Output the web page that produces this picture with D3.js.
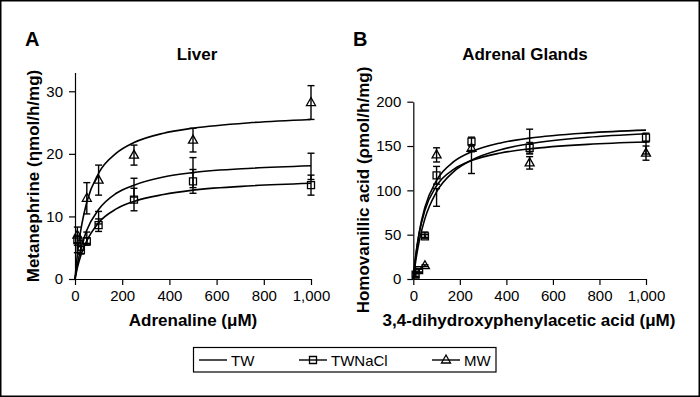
<!DOCTYPE html>
<html>
<head>
<meta charset="utf-8">
<script src="https://cdn.jsdelivr.net/npm/d3@7"></script>
<style>
  body { margin: 0; background: #fff; }
  svg { display: block; }
</style>
</head>
<body>
<div id="chart"></div>
<script>
// enzyme kinetics, two panels: liver and adrenal glands

// ---- data ----
var xTicks = [0, 200, 400, 600, 800, 1000];
var liverTicks = [0, 10, 20, 30];
var adrenalTicks = [0, 50, 100, 150, 200];

// liver (metanephrine, nmol/h/mg)
var liverConc   = [10, 25, 50, 100, 250, 500, 1000];
var liverTW     = [5.0, 5.4, 6.6, 9.8, 14.6, 17.0, 18.0];
var liverTWErr  = [0.8, 0.8, 0.9, 1.0, 1.5, 2.4, 2.1];
var liverNaCl   = [6.2, 4.6, 6.0, 8.6, 12.7, 15.6, 15.0];
var liverNaClErr= [0.8, 0.6, 0.6, 1.0, 1.8, 1.9, 1.6];
var liverMWConc = [10, 50, 100, 250, 500, 1000];
var liverMW     = [7.0, 12.9, 15.8, 19.8, 22.2, 28.2];
var liverMWErr  = [1.3, 2.5, 2.4, 1.6, 1.9, 2.7];

// adrenal glands (homovanillic acid, pmol/h/mg)
var adrConc     = [10, 25, 50, 100, 250, 500, 1000];
var adrTW       = [4, 9, 50, 92, 132, 155, 148];
var adrTWErr    = [2, 2, 3, 10, 13, 14, 7];
var adrNaCl     = [5, 10, 48, 117, 155, 148, 159.5];
var adrNaClErr  = [2, 2, 2, 10, 5, 6, 5];
var adrMWConc   = [50, 100, 250, 500, 1000];
var adrMW       = [15, 140, 147.5, 131, 142];
var adrMWErr    = [1, 8, 4, 7, 8];

// fitted curves
var fitX          = [0, 10, 25, 50, 100, 175, 250, 375, 500, 750, 1000];
var liverFitMW    = [0, 3.9, 7.9, 12.3, 16.9, 20.1, 21.8, 23.3, 24.1, 25.0, 25.5];
var liverFitTW    = [0, 2.3, 4.9, 7.8, 11.1, 13.7, 15.0, 16.3, 17.0, 17.7, 18.1];
var liverFitNaCl  = [0, 1.8, 3.8, 6.1, 9.0, 11.2, 12.4, 13.5, 14.2, 14.9, 15.3];
var adrFitTW      = [0, 25.4, 52.4, 80.9, 111.3, 132.6, 143.5, 153.5, 158.9, 164.8, 167.9];
var adrFitNaCl    = [0, 19.7, 42.1, 68.1, 98.3, 121.5, 134.1, 145.9, 152.6, 159.9, 163.9];
var adrFitMW      = [0, 25.1, 51.0, 77.6, 105.2, 124.0, 133.6, 142.1, 146.8, 151.9, 154.5];

var legendLabels = ['TW', 'TWNaCl', 'MW'];

// ---- drawing ----
var font = '"Liberation Sans", Arial, Helvetica, sans-serif';
var W = 700, H = 397;

var svg = d3.select('#chart').append('svg')
  .attr('width', W)
  .attr('height', H)
  .style('font-family', font);

svg.append('rect')
  .attr('x', 0.75).attr('y', 0.75)
  .attr('width', W - 1.5).attr('height', H - 1.5)
  .attr('fill', '#fff')
  .attr('stroke', '#000')
  .attr('stroke-width', 1.5);

var squarePath = 'M-3.5,-3.5H3.5V3.5H-3.5Z';
var trianglePath = 'M0,-5L4.5,3L-4.5,3Z';

function panel (opt) {
  var x = d3.scaleLinear().domain([0, 1000]).range(opt.xRange);
  var y = d3.scaleLinear().domain(opt.yDomain).range([279, opt.yTop]);
  var g = svg.append('g');

  // x axis
  var xAx = g.append('g')
    .attr('transform', 'translate(0,' + y(0) + ')')
    .call(d3.axisBottom(x).tickValues(xTicks).tickSize(6).tickSizeOuter(0).tickPadding(5));
  // y axis
  var yAx = g.append('g')
    .attr('transform', 'translate(' + x(0) + ',0)')
    .call(d3.axisLeft(y).tickValues(opt.yTicks).tickSize(6).tickSizeOuter(0).tickPadding(6));
  [xAx, yAx].forEach(function (a) {
    a.attr('font-family', font).attr('font-size', 15);
    a.select('.domain').attr('stroke', '#000').attr('stroke-width', 1.2);
    a.selectAll('.tick line').attr('stroke', '#000').attr('stroke-width', 1.2);
    a.selectAll('.tick text').attr('fill', '#000');
  });

  // letters and titles
  g.append('text').attr('x', opt.letterX).attr('y', 46)
    .style('font-size', '20px').style('font-weight', 'bold').text(opt.letter);
  g.append('text').attr('x', opt.titleX).attr('y', 60)
    .attr('text-anchor', 'middle')
    .style('font-size', '17px').style('font-weight', 'bold').text(opt.title);
  g.append('text').attr('x', opt.xTitleX).attr('y', 326)
    .attr('text-anchor', 'middle')
    .style('font-size', '17px').style('font-weight', 'bold').text(opt.xTitle);
  g.append('text')
    .attr('transform', 'translate(' + opt.yTitleX + ',' + opt.yTitleY + ') rotate(-90)')
    .attr('text-anchor', 'middle')
    .style('font-size', '17px').style('font-weight', 'bold').text(opt.yTitle);

  // fitted curves
  var line = d3.line()
    .x(function (d) { return x(d[0]); })
    .y(function (d) { return y(d[1]); })
    .curve(d3.curveMonotoneX);
  opt.fits.forEach(function (f) {
    g.append('path')
      .attr('d', line(fitX.map(function (v, i) { return [v, f[i]]; })))
      .attr('fill', 'none')
      .attr('stroke', '#000')
      .attr('stroke-width', 1.6);
  });

  // error bars and markers
  opt.series.forEach(function (s) {
    var pts = s.x.map(function (v, i) { return {x: v, y: s.y[i], e: s.err[i]}; });
    var sg = g.append('g');
    var eb = sg.selectAll('g.eb').data(pts).enter().append('g')
      .attr('class', 'eb')
      .attr('stroke', '#000')
      .attr('stroke-width', 1.4);
    eb.append('line')
      .attr('x1', function (d) { return x(d.x); }).attr('x2', function (d) { return x(d.x); })
      .attr('y1', function (d) { return y(d.y - d.e); }).attr('y2', function (d) { return y(d.y + d.e); });
    eb.append('line')
      .attr('x1', function (d) { return x(d.x) - 3.5; }).attr('x2', function (d) { return x(d.x) + 3.5; })
      .attr('y1', function (d) { return y(d.y + d.e); }).attr('y2', function (d) { return y(d.y + d.e); });
    eb.append('line')
      .attr('x1', function (d) { return x(d.x) - 3.5; }).attr('x2', function (d) { return x(d.x) + 3.5; })
      .attr('y1', function (d) { return y(d.y - d.e); }).attr('y2', function (d) { return y(d.y - d.e); });
    if (s.marker) {
      sg.selectAll('path.mk').data(pts).enter().append('path')
        .attr('class', 'mk')
        .attr('d', s.marker)
        .attr('transform', function (d) { return 'translate(' + x(d.x) + ',' + y(d.y) + ')'; })
        .attr('fill', 'none')
        .attr('stroke', '#000')
        .attr('stroke-width', 1.3);
    }
  });
}

panel({
  xRange: [75, 311], yDomain: [0, 33], yTop: 72.5, yTicks: liverTicks,
  letter: 'A', letterX: 25, title: 'Liver', titleX: 197,
  xTitle: 'Adrenaline (\u03BCM)', xTitleX: 193,
  yTitle: 'Metanephrine (\u03B7mol/h/mg)', yTitleX: 38.5, yTitleY: 176,
  fits: [liverFitMW, liverFitTW, liverFitNaCl],
  series: [
    {x: liverConc, y: liverTW, err: liverTWErr, marker: null},
    {x: liverConc, y: liverNaCl, err: liverNaClErr, marker: squarePath},
    {x: liverMWConc, y: liverMW, err: liverMWErr, marker: trianglePath}
  ]
});

panel({
  xRange: [413.3, 646], yDomain: [0, 200], yTop: 101.7, yTicks: adrenalTicks,
  letter: 'B', letterX: 353, title: 'Adrenal Glands', titleX: 525,
  xTitle: '3,4-dihydroxyphenylacetic acid (\u03BCM)', xTitleX: 529,
  yTitle: 'Homovanillic acid (\u03C1mol/h/mg)', yTitleX: 368.5, yTitleY: 190,
  fits: [adrFitTW, adrFitNaCl, adrFitMW],
  series: [
    {x: adrConc, y: adrTW, err: adrTWErr, marker: null},
    {x: adrConc, y: adrNaCl, err: adrNaClErr, marker: squarePath},
    {x: adrMWConc, y: adrMW, err: adrMWErr, marker: trianglePath}
  ]
});

// legend
var legend = svg.append('g');
legend.append('rect')
  .attr('x', 193.5).attr('y', 347.5)
  .attr('width', 302.5).attr('height', 24.5)
  .attr('fill', 'none').attr('stroke', '#000').attr('stroke-width', 1.2);
var legendX = [199, 299, 432];
var legendMarkers = [null, squarePath, trianglePath];
legendLabels.forEach(function (lab, i) {
  var lx = legendX[i];
  legend.append('line')
    .attr('x1', lx).attr('x2', lx + 28)
    .attr('y1', 360).attr('y2', 360)
    .attr('stroke', '#000').attr('stroke-width', 1.4);
  if (legendMarkers[i]) {
    legend.append('path')
      .attr('d', legendMarkers[i])
      .attr('transform', 'translate(' + (lx + 14) + ',360)')
      .attr('fill', 'none').attr('stroke', '#000').attr('stroke-width', 1.3);
  }
  legend.append('text')
    .attr('x', lx + 32).attr('y', 365.5)
    .style('font-size', '15px')
    .text(lab);
});
</script>
</body>
</html>
